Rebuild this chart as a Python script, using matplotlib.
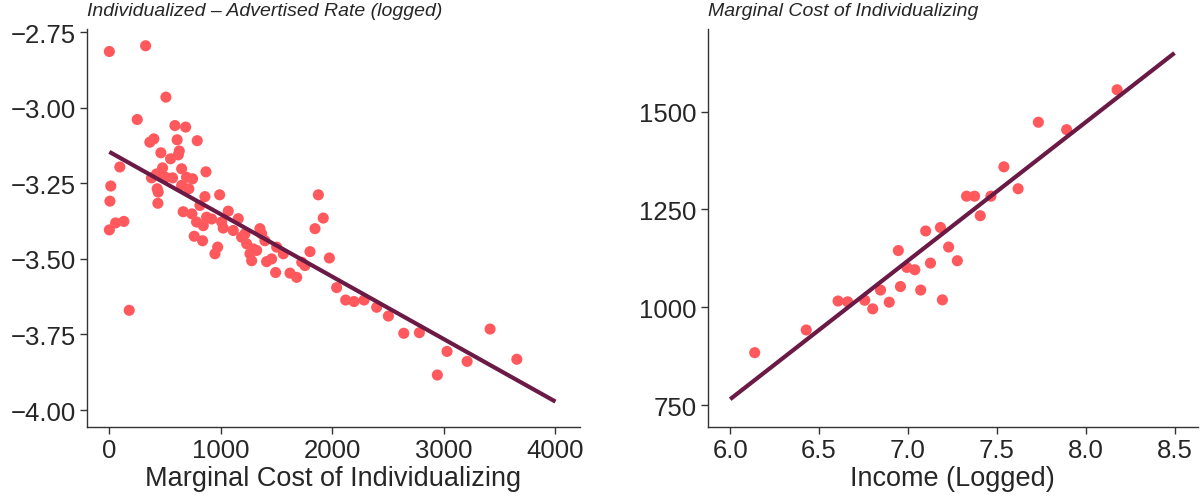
import matplotlib
matplotlib.use("Agg")
import matplotlib.pyplot as plt
from matplotlib.ticker import FuncFormatter

plt.rcParams['font.family'] = ['Liberation Sans', 'DejaVu Sans']
plt.rcParams['axes.unicode_minus'] = True

# ---- Left panel data: marginal cost vs individualized - advertised rate (logged)
cost = [0, 325, 507, 250, 588, 684, 363, 399, 608, 788, 462, 627, 618, 549, 94,
        477, 648, 866, 423, 567, 692, 746, 378, 504, 648, 713, 429, 438, 857, 989,
        13, 5, 435, 1066, 1156, 662, 740, 1874, 1918, 56, 130, 0, 178, 812, 782,
        842, 872, 917, 761, 836, 947, 971, 1021, 1111, 1186, 1216, 1350, 1366, 1231,
        1290, 1261, 1321, 1276, 1395, 1410, 1455, 1491, 1500, 1560, 1620, 1680, 1725,
        1754, 1799, 1844, 1973, 2038, 2119, 2194, 2284, 2397, 2502, 2640, 2780, 3414,
        3028, 3208, 3654, 2941, 1007]
rate_diff = [-2.814, -2.795, -2.965, -3.039, -3.059, -3.064, -3.114, -3.103, -3.106,
             -3.109, -3.149, -3.143, -3.156, -3.169, -3.196, -3.199, -3.202, -3.212,
             -3.219, -3.232, -3.230, -3.235, -3.232, -3.230, -3.257, -3.268, -3.268,
             -3.279, -3.294, -3.288, -3.259, -3.309, -3.316, -3.342, -3.367, -3.344,
             -3.351, -3.288, -3.365, -3.381, -3.376, -3.404, -3.670, -3.323, -3.378,
             -3.390, -3.362, -3.368, -3.425, -3.440, -3.483, -3.461, -3.398, -3.406,
             -3.428, -3.417, -3.400, -3.417, -3.450, -3.467, -3.483, -3.472, -3.506,
             -3.440, -3.509, -3.500, -3.545, -3.461, -3.483, -3.547, -3.561, -3.511,
             -3.522, -3.476, -3.400, -3.497, -3.595, -3.636, -3.641, -3.636, -3.660,
             -3.689, -3.746, -3.744, -3.732, -3.806, -3.839, -3.832, -3.884, -3.378]
fit1_x = [0, 4000]
fit1_y = [-3.146, -3.972]

# ---- Right panel data: income (logged) vs marginal cost of individualizing
income = [8.177, 7.734, 7.893, 7.540, 7.620, 7.330, 7.375, 7.467, 7.407, 7.100,
          7.183, 7.229, 6.946, 7.127, 7.278, 6.994, 7.039, 6.846, 6.958, 7.072,
          7.194, 6.607, 6.661, 6.757, 6.802, 6.895, 6.428, 6.138]
marg_cost = [1556, 1473, 1454, 1359, 1303, 1284, 1284, 1284, 1234, 1195,
             1204, 1154, 1145, 1113, 1119, 1102, 1096, 1044, 1053, 1044,
             1019, 1016, 1014, 1018, 996, 1013, 942, 884]
fit2_x = [6.0, 8.5]
fit2_y = [765, 1650]

left_yticks = [-2.75, -3.00, -3.25, -3.50, -3.75, -4.00]
left_xticks = [0, 1000, 2000, 3000, 4000]
right_yticks = [750, 1000, 1250, 1500]
right_xticks = [6.0, 6.5, 7.0, 7.5, 8.0, 8.5]

PT_COLOR = '#FF585D'
LINE_COLOR = '#6A1A45'
TXT = '#262626'
SPINE = '#333333'

fig = plt.figure(figsize=(12.04, 5.02), dpi=100)
ax1 = fig.add_axes([0.0723, 0.1474, 0.4094, 0.7926])
ax2 = fig.add_axes([0.5880, 0.1474, 0.4067, 0.7926])


def fmt(decimals):
    def f(v, pos):
        return ('{:.%df}' % decimals).format(v).replace('-', '\u2212')
    return FuncFormatter(f)


def style(ax):
    for s in ['top', 'right']:
        ax.spines[s].set_visible(False)
    for s in ['left', 'bottom']:
        ax.spines[s].set_color(SPINE)
        ax.spines[s].set_linewidth(1.0)
    ax.tick_params(axis='both', which='major', length=5, width=1.0,
                   color=SPINE, labelsize=18.5, labelcolor=TXT, pad=3)


ax1.scatter(cost, rate_diff, s=64, color=PT_COLOR, edgecolors='none', zorder=2)
ax1.plot(fit1_x, fit1_y, color=LINE_COLOR, lw=3.0, solid_capstyle='butt', zorder=3)
ax1.set_xlim(-200, 4220)
ax1.set_ylim(-4.056, -2.74)
ax1.set_xticks(left_xticks)
ax1.set_yticks(left_yticks)
ax1.yaxis.set_major_formatter(fmt(2))
ax1.set_xlabel('Marginal Cost of Individualizing', fontsize=19.5, color=TXT, labelpad=2)
ax1.set_title('Individualized \u2013 Advertised Rate (logged)', loc='left',
              fontsize=14, style='italic', color=TXT, pad=10, x=0.0)
style(ax1)

ax2.scatter(income, marg_cost, s=64, color=PT_COLOR, edgecolors='none', zorder=2)
ax2.plot(fit2_x, fit2_y, color=LINE_COLOR, lw=3.0, solid_capstyle='butt', zorder=3)
ax2.set_xlim(5.875, 8.63)
ax2.set_ylim(694, 1711)
ax2.set_xticks(right_xticks)
ax2.set_yticks(right_yticks)
ax2.xaxis.set_major_formatter(fmt(1))
ax2.set_xlabel('Income (Logged)', fontsize=19.5, color=TXT, labelpad=2)
ax2.set_title('Marginal Cost of Individualizing', loc='left',
              fontsize=14, style='italic', color=TXT, pad=10, x=0.0)
style(ax2)

fig.savefig('out.png', dpi=100)
